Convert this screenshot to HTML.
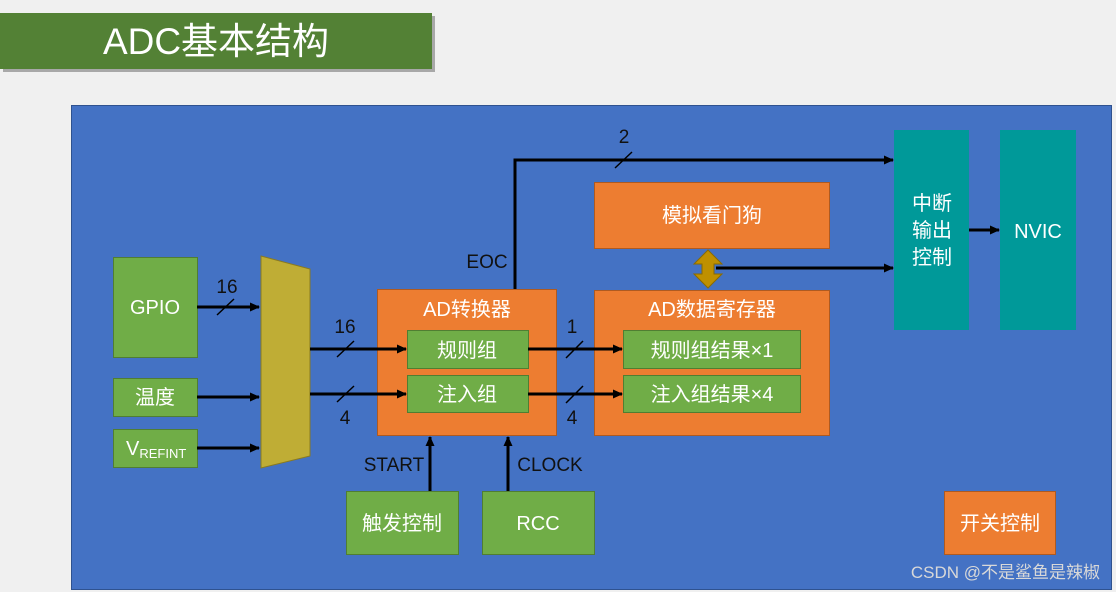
<!DOCTYPE html>
<html><head><meta charset="utf-8"><style>
html,body{margin:0;padding:0;background:#f0f0f0;}
svg{display:block;font-family:"Liberation Sans","Noto Sans CJK SC",sans-serif;}
</style></head><body>
<svg width="1116" height="592" viewBox="0 0 1116 592" xmlns="http://www.w3.org/2000/svg">
<defs>
<marker id="a" markerWidth="10" markerHeight="10" refX="9" refY="5" orient="auto" markerUnits="userSpaceOnUse"><path d="M0,0.5 L10,5 L0,9.5 z" fill="#000"/></marker>
</defs>
<rect width="1116" height="592" fill="#f0f0f0"/>
<rect x="3" y="16" width="432" height="56" fill="#a8a8a8"/>
<rect x="0" y="13" width="432" height="56" fill="#538135"/>
<text x="216" y="54" font-size="37" fill="#fff" text-anchor="middle">ADC基本结构</text>
<rect x="71.5" y="105.5" width="1040" height="484" fill="#4472c4" stroke="#2f528f"/>
<g stroke="#507e32" stroke-width="1" fill="#70ad47">
<rect x="113.5" y="257.5" width="84" height="100"/>
<rect x="113.5" y="378.5" width="84" height="38"/>
<rect x="113.5" y="429.5" width="84" height="38"/>
<rect x="346.5" y="491.5" width="112" height="63"/>
<rect x="482.5" y="491.5" width="112" height="63"/>
</g>
<polygon points="261,256 310,269 310,456 261,468" fill="#bfad35" stroke="#8a7a20"/>
<g stroke="#ae5a21" fill="#ed7d31">
<rect x="377.5" y="289.5" width="179" height="146"/>
<rect x="594.5" y="182.5" width="235" height="66"/>
<rect x="594.5" y="290.5" width="235" height="145"/>
<rect x="944.5" y="491.5" width="111" height="63"/>
</g>
<g stroke="#507e32" fill="#70ad47">
<rect x="407.5" y="330.5" width="121" height="38"/>
<rect x="407.5" y="375.5" width="121" height="37"/>
<rect x="623.5" y="330.5" width="177" height="38"/>
<rect x="623.5" y="375.5" width="177" height="37"/>
</g>
<rect x="894" y="130" width="75" height="200" fill="#009999"/>
<rect x="1000" y="130" width="76" height="200" fill="#009999"/>
<polygon points="708,250 722,264 714,264 714,274 722,274 708,288 694,274 702,274 702,264 694,264" fill="#bf9000" stroke="#8a6a00"/>
<g stroke="#000" stroke-width="3" fill="none">
<line x1="197" y1="307" x2="259" y2="307" marker-end="url(#a)"/>
<line x1="197" y1="397" x2="259" y2="397" marker-end="url(#a)"/>
<line x1="197" y1="448" x2="259" y2="448" marker-end="url(#a)"/>
<line x1="310" y1="349" x2="406" y2="349" marker-end="url(#a)"/>
<line x1="310" y1="394" x2="406" y2="394" marker-end="url(#a)"/>
<line x1="528" y1="349" x2="622" y2="349" marker-end="url(#a)"/>
<line x1="528" y1="394" x2="622" y2="394" marker-end="url(#a)"/>
<polyline points="515,289 515,160 893,160" marker-end="url(#a)"/>
<line x1="716" y1="268" x2="893" y2="268" marker-end="url(#a)"/>
<line x1="969" y1="230" x2="999" y2="230" marker-end="url(#a)"/>
<line x1="430" y1="491" x2="430" y2="437" marker-end="url(#a)"/>
<line x1="508" y1="491" x2="508" y2="437" marker-end="url(#a)"/>
</g>
<g stroke="#000" stroke-width="1.5">
<line x1="217" y1="315" x2="234" y2="299"/>
<line x1="337" y1="357" x2="354" y2="341"/>
<line x1="337" y1="402" x2="354" y2="386"/>
<line x1="566" y1="358" x2="583" y2="341"/>
<line x1="566" y1="403" x2="583" y2="386"/>
<line x1="615" y1="168" x2="632" y2="152"/>
</g>
<g font-size="19" fill="#111">
<text x="227" y="293" text-anchor="middle">16</text>
<text x="345" y="333" text-anchor="middle">16</text>
<text x="345" y="424" text-anchor="middle">4</text>
<text x="572" y="333" text-anchor="middle">1</text>
<text x="572" y="424" text-anchor="middle">4</text>
<text x="624" y="143" text-anchor="middle">2</text>
<text x="487" y="268" text-anchor="middle">EOC</text>
<text x="394" y="471" text-anchor="middle">START</text>
<text x="550" y="471" text-anchor="middle">CLOCK</text>
</g>
<g font-size="20" fill="#fff" text-anchor="middle">
<text x="155" y="314">GPIO</text>
<text x="155" y="404">温度</text>
<text x="126" y="455" text-anchor="start">V<tspan font-size="13" dy="3">REFINT</tspan></text>
<text x="467" y="316">AD转换器</text>
<text x="467" y="357">规则组</text>
<text x="467" y="401">注入组</text>
<text x="712" y="222">模拟看门狗</text>
<text x="712" y="316">AD数据寄存器</text>
<text x="712" y="357">规则组结果×1</text>
<text x="712" y="401">注入组结果×4</text>
<text x="932" y="210">中断</text>
<text x="932" y="237">输出</text>
<text x="932" y="264">控制</text>
<text x="1038" y="238">NVIC</text>
<text x="402" y="530">触发控制</text>
<text x="538" y="530">RCC</text>
<text x="1000" y="530">开关控制</text>
</g>
<text x="1100" y="578" font-size="17" fill="#d8d8d8" text-anchor="end">CSDN @不是鲨鱼是辣椒</text>
</svg>
</body></html>
